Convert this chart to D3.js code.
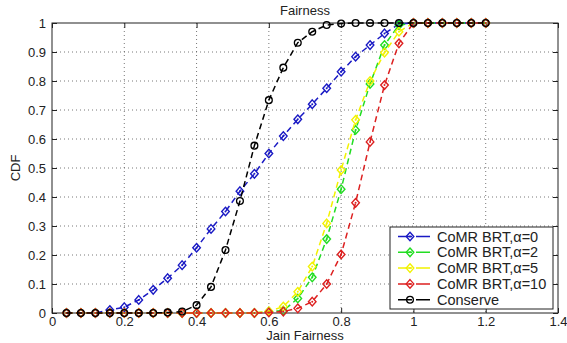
<!DOCTYPE html>
<meta charset="utf-8">
<head>
<style>
  body { margin: 0; background: #fff; }
  text { font-family: "Liberation Sans", Arial, sans-serif; fill: #222; }
</style>
</head>
<body>
<script src="https://d3js.org/d3.v7.min.js"></script>
<div id="chart"></div>
<script>
// x positions of the samples (Jain fairness)
var xs = [0.04, 0.08, 0.12, 0.16, 0.20, 0.24, 0.28, 0.32, 0.36, 0.40,
          0.44, 0.48, 0.52, 0.56, 0.60, 0.64, 0.68, 0.72, 0.76, 0.80,
          0.84, 0.88, 0.92, 0.96, 1.00, 1.04, 1.08, 1.12, 1.16, 1.20];

var alpha0  = [0, 0, 0, 0.01, 0.02, 0.045, 0.08, 0.12, 0.165, 0.225,
               0.29, 0.35, 0.42, 0.48, 0.55, 0.61, 0.668, 0.72, 0.775, 0.832,
               0.884, 0.924, 0.964, 0.996, 1, 1, 1, 1, 1, 1];
var alpha2  = [0, 0, 0, 0, 0, 0, 0, 0, 0, 0,
               0, 0, 0, 0, 0.005, 0.008, 0.05, 0.123, 0.255, 0.427,
               0.631, 0.79, 0.924, 0.993, 1, 1, 1, 1, 1, 1];
var alpha5  = [0, 0, 0, 0, 0, 0, 0, 0, 0, 0,
               0, 0, 0, 0, 0.006, 0.022, 0.073, 0.16, 0.309, 0.493,
               0.666, 0.80, 0.898, 0.97, 1, 1, 1, 1, 1, 1];
var alpha10 = [0, 0, 0, 0, 0, 0, 0, 0, 0, 0,
               0, 0, 0, 0, 0.002, 0.005, 0.016, 0.039, 0.10, 0.202,
               0.38, 0.59, 0.786, 0.93, 1, 1, 1, 1, 1, 1];
var conserve = [0, 0, 0, 0, 0, 0, 0, 0.002, 0.005, 0.027,
                0.09, 0.217, 0.386, 0.577, 0.734, 0.846, 0.932, 0.97, 0.993, 0.998,
                1, 1, 1, 1, 1, 1, 1, 1, 1, 1];

var seriesNames = ["CoMR BRT,\u03b1=0", "CoMR BRT,\u03b1=2", "CoMR BRT,\u03b1=5", "CoMR BRT,\u03b1=10", "Conserve"];
var seriesColors = ["#1a1ac4", "#22dd22", "#f2f200", "#dd2020", "#000000"];
var seriesMarkers = ["diamond", "diamond", "diamond", "diamond", "circle"];
var seriesValues = [alpha0, alpha2, alpha5, alpha10, conserve];

var xTicks = [0, 0.2, 0.4, 0.6, 0.8, 1, 1.2, 1.4];
var yTicks = [0, 0.1, 0.2, 0.3, 0.4, 0.5, 0.6, 0.7, 0.8, 0.9, 1];

var W = 567, H = 343;
var margin = {top: 23, right: 9, bottom: 30, left: 52},
    width = W - margin.left - margin.right,
    height = H - margin.top - margin.bottom;

var svg = d3.select("#chart").append("svg")
    .attr("width", W).attr("height", H);
var g = svg.append("g")
    .attr("transform", "translate(" + margin.left + "," + margin.top + ")");

var x = d3.scaleLinear().domain([0, 1.4]).range([0, width]);
var y = d3.scaleLinear().domain([0, 1]).range([height, 0]);

// grid
g.append("g").selectAll("line").data(xTicks.slice(1, -1)).enter().append("line")
    .attr("x1", function(d) { return x(d); }).attr("x2", function(d) { return x(d); })
    .attr("y1", 0).attr("y2", height)
    .attr("stroke", "#555").attr("stroke-width", 0.8).attr("stroke-dasharray", "1,3");
g.append("g").selectAll("line").data(yTicks.slice(1, -1)).enter().append("line")
    .attr("y1", function(d) { return y(d); }).attr("y2", function(d) { return y(d); })
    .attr("x1", 0).attr("x2", width)
    .attr("stroke", "#555").attr("stroke-width", 0.8).attr("stroke-dasharray", "1,3");

// axes
var fmt = function(d) { return d3.format("")(+d.toFixed(1)); };
g.append("g").attr("transform", "translate(0," + height + ")")
    .call(d3.axisBottom(x).tickValues(xTicks).tickSize(-5).tickPadding(4).tickFormat(fmt));
g.append("g")
    .call(d3.axisLeft(y).tickValues(yTicks).tickSize(-5).tickPadding(6).tickFormat(fmt));
g.append("g").call(d3.axisTop(x).tickValues(xTicks).tickSize(-5).tickFormat(""));
g.append("g").attr("transform", "translate(" + width + ",0)")
    .call(d3.axisRight(y).tickValues(yTicks).tickSize(-5).tickFormat(""));
g.selectAll(".domain").remove();
g.selectAll(".tick line").attr("stroke", "#222");
g.selectAll(".tick text").style("font-size", "13px").attr("fill", "#333");

g.append("rect").attr("width", width).attr("height", height)
    .attr("fill", "none").attr("stroke", "#222").attr("stroke-width", 1);

// series
var line = d3.line()
    .x(function(d) { return x(d[0]); })
    .y(function(d) { return y(d[1]); });

function drawMarker(sel, type, color) {
  if (type === "circle") {
    sel.append("circle").attr("r", 3.4)
      .attr("fill", "none").attr("stroke", color).attr("stroke-width", 1.3);
  } else {
    sel.append("path").attr("d", "M0,-4.3L3.8,0L0,4.3L-3.8,0Z")
      .attr("fill", "none").attr("stroke", color).attr("stroke-width", 1.4);
    sel.append("circle").attr("r", 1).attr("fill", color);
  }
}

seriesValues.forEach(function(vals, i) {
  var pts = xs.map(function(v, j) { return [v, vals[j]]; });
  var sg = g.append("g");
  sg.append("path").datum(pts)
    .attr("d", line)
    .attr("fill", "none")
    .attr("stroke", seriesColors[i])
    .attr("stroke-width", 1.5)
    .attr("stroke-dasharray", "6,4");
  sg.selectAll("g.m").data(pts).enter().append("g")
    .attr("transform", function(d) { return "translate(" + x(d[0]) + "," + y(d[1]) + ")"; })
    .each(function() { drawMarker(d3.select(this), seriesMarkers[i], seriesColors[i]); });
});

// labels
svg.append("text").attr("x", margin.left + width / 2).attr("y", 15)
    .attr("text-anchor", "middle").style("font-size", "13px").text("Fairness");
svg.append("text").attr("x", margin.left + width / 2).attr("y", 340)
    .attr("text-anchor", "middle").style("font-size", "13px").text("Jain Fairness");
svg.append("text").attr("transform", "translate(20," + (margin.top + height / 2) + ") rotate(-90)")
    .attr("text-anchor", "middle").style("font-size", "13px").text("CDF");

// legend
var lg = svg.append("g").attr("transform", "translate(390,227)");
lg.append("rect").attr("width", 163).attr("height", 82)
    .attr("fill", "#fff").attr("stroke", "#222").attr("stroke-width", 1);
seriesNames.forEach(function(name, i) {
  var ly = 9.5 + i * 15.8;
  lg.append("line").attr("x1", 8).attr("x2", 44).attr("y1", ly).attr("y2", ly)
    .attr("stroke", seriesColors[i]).attr("stroke-width", 1.5).attr("stroke-dasharray", "14,4,14");
  var mk = lg.append("g").attr("transform", "translate(20," + ly + ")");
  drawMarker(mk, seriesMarkers[i], seriesColors[i]);
  lg.append("text").attr("x", 47).attr("y", ly + 5)
    .style("font-size", "14.5px").attr("fill", "#333").text(name);
});
</script>
</body>
